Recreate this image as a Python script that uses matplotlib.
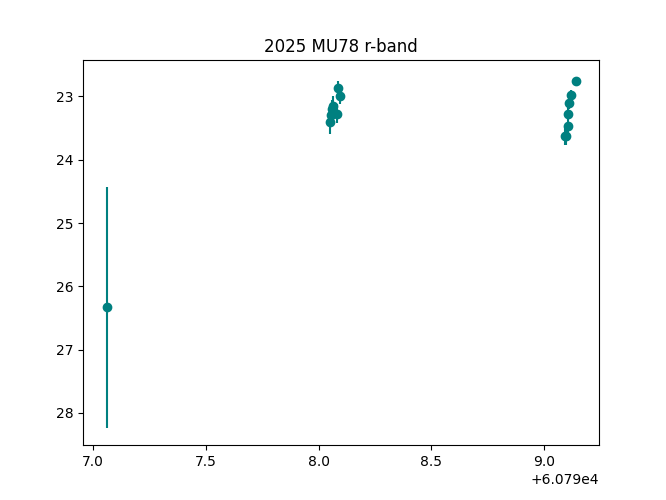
import matplotlib
matplotlib.use("Agg")
import matplotlib.pyplot as plt

# Observation times (MJD) and r-band magnitudes
mjd = [60797.060,
       60798.049, 60798.056, 60798.060, 60798.066, 60798.080, 60798.088, 60798.093,
       60799.093, 60799.100, 60799.106, 60799.106, 60799.111, 60799.119, 60799.142]
mag = [26.33,
       23.40, 23.30, 23.20, 23.15, 23.27, 22.87, 23.00,
       23.62, 23.62, 23.46, 23.27, 23.10, 22.98, 22.76]
mag_err = [1.90,
           0.20, 0.15, 0.15, 0.15, 0.15, 0.12, 0.12,
           0.15, 0.15, 0.12, 0.10, 0.10, 0.08, 0.06]

fig, ax = plt.subplots(figsize=(6.66, 5.0), dpi=100)
ax.errorbar(mjd, mag, yerr=mag_err, fmt="o", color="teal")
ax.invert_yaxis()
ax.set_title("2025 MU78 r-band")
fig.savefig("out.png")
